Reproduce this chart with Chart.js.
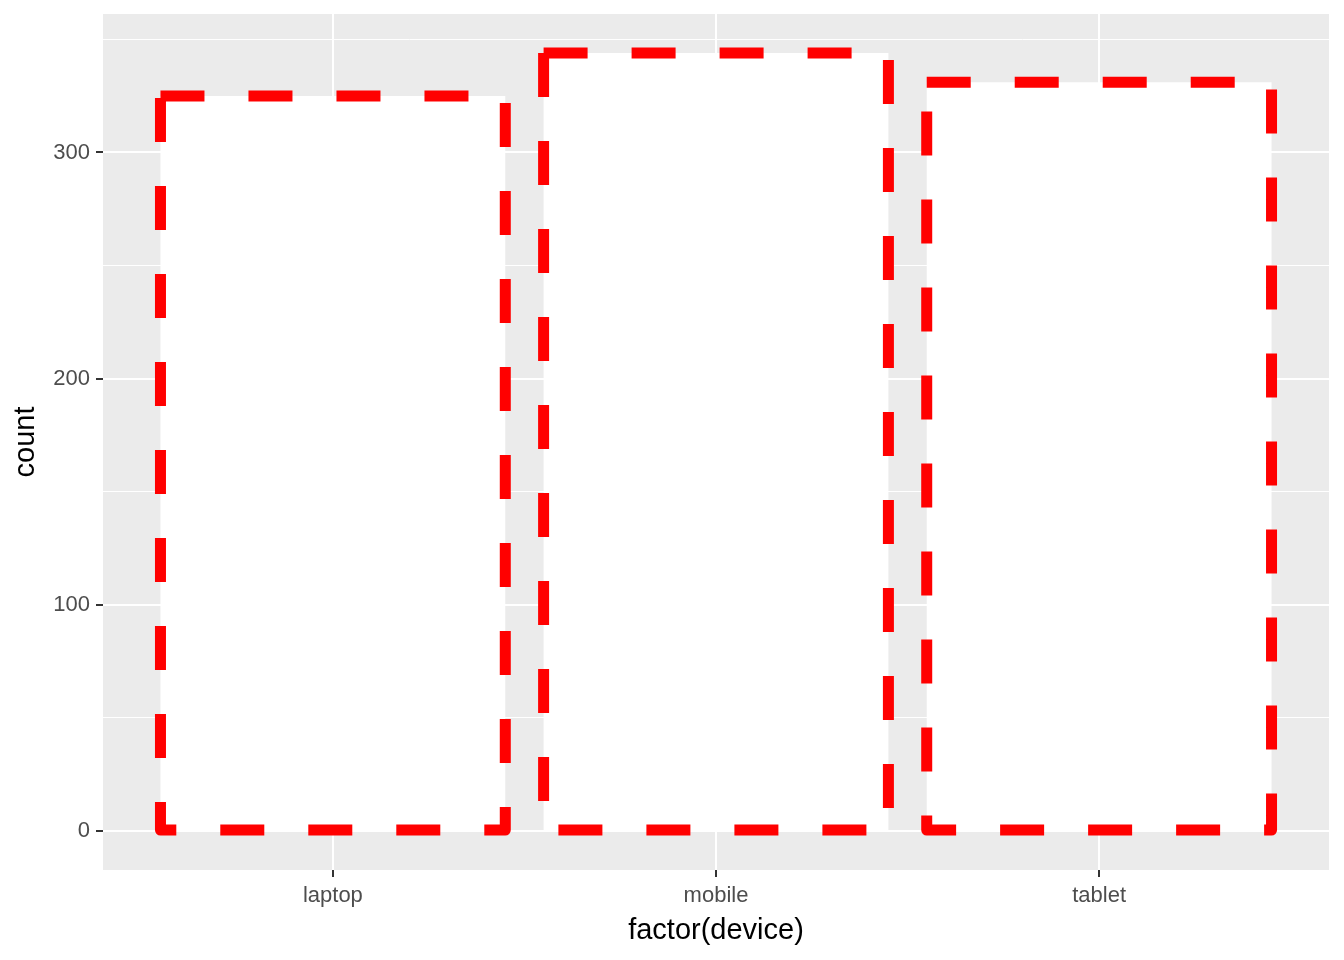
<!DOCTYPE html>
<html>
<head>
<meta charset="utf-8">
<script src="https://cdn.jsdelivr.net/npm/chart.js@4/dist/chart.umd.min.js"></script>
<style>
  html, body { margin: 0; padding: 0; background: #ffffff; }
  #wrap { width: 1344px; height: 960px; }
</style>
</head>
<body>
<div id="wrap"><canvas id="c" width="1344" height="960"></canvas></div>
<script>
// ---- data ----
const categories = ["laptop", "mobile", "tablet"];
const counts = [325, 344, 331];
const yMajorTicks = [0, 100, 200, 300];
const yMinorTicks = [50, 150, 250, 350];
const xTitle = "factor(device)";
const yTitle = "count";

const FONT = "'Liberation Sans', Arial, sans-serif";
const categoryIndex = categories.map((c, i) => i + 1);
const countMax = Math.max(...counts);
const yExpand = countMax * 0.05;

const panelBg = {
  id: 'panelBg',
  beforeDraw(chart) {
    const a = chart.chartArea, ctx = chart.ctx;
    ctx.save();
    ctx.fillStyle = '#EBEBEB';
    ctx.fillRect(a.left, a.top, a.right - a.left, a.bottom - a.top);
    ctx.restore();
  }
};

const dashedOutline = {
  id: 'dashedOutline',
  afterDatasetsDraw(chart) {
    const ctx = chart.ctx;
    const meta = chart.getDatasetMeta(0);
    ctx.save();
    ctx.strokeStyle = '#FF0000';
    ctx.lineWidth = 11;
    ctx.setLineDash([44, 44]);
    ctx.lineDashOffset = 0;
    ctx.lineJoin = 'round';
    ctx.lineCap = 'butt';
    meta.data.forEach(el => {
      const p = el.getProps(['x', 'y', 'base', 'width'], true);
      const l = p.x - p.width / 2, r = p.x + p.width / 2;
      ctx.beginPath();
      ctx.moveTo(l, p.y);
      ctx.lineTo(r, p.y);
      ctx.lineTo(r, p.base);
      ctx.lineTo(l, p.base);
      ctx.lineTo(l, p.y);
      ctx.stroke();
    });
    ctx.restore();
  }
};

new Chart(document.getElementById('c'), {
  type: 'bar',
  data: {
    datasets: [{
      data: categoryIndex.map((x, i) => ({ x: x, y: counts[i] })),
      backgroundColor: '#FFFFFF',
      borderWidth: 0,
      categoryPercentage: 1.0,
      barPercentage: 0.9
    }]
  },
  options: {
    responsive: false,
    animation: false,
    devicePixelRatio: 1,
    layout: { padding: { left: 0, top: 14, right: 15, bottom: 0 } },
    plugins: { legend: { display: false }, tooltip: { enabled: false } },
    scales: {
      x: {
        type: 'linear',
        min: 0.4,
        max: 3.6,
        offset: false,
        afterBuildTicks(scale) { scale.ticks = categoryIndex.map(v => ({ value: v })); },
        afterFit(scale) { scale.height = 90; scale.paddingLeft = 0; scale.paddingRight = 0; },
        border: { display: false },
        grid: {
          offset: false,
          color: '#FFFFFF',
          lineWidth: 2,
          tickColor: '#333333',
          tickWidth: 2,
          tickLength: 7
        },
        ticks: {
          color: '#4D4D4D',
          font: { family: FONT, size: 22 },
          padding: 6,
          maxRotation: 0,
          callback: (v) => categories[Math.round(v) - 1] || ''
        },
        title: {
          display: true,
          text: xTitle,
          color: '#000000',
          font: { family: FONT, size: 29 },
          padding: { top: 0, bottom: 11.6 }
        }
      },
      y: {
        type: 'linear',
        min: -yExpand,
        max: countMax + yExpand,
        afterBuildTicks(scale) {
          scale.ticks = yMajorTicks.concat(yMinorTicks).sort((a, b) => a - b).map(v => ({ value: v }));
        },
        afterFit(scale) { scale.width = 103; scale.paddingTop = 0; scale.paddingBottom = 0; },
        border: { display: false },
        grid: {
          color: '#FFFFFF',
          lineWidth: (ctx) => yMajorTicks.includes(ctx.tick && ctx.tick.value) ? 2 : 1,
          tickColor: (ctx) => yMajorTicks.includes(ctx.tick && ctx.tick.value) ? '#333333' : 'rgba(0,0,0,0)',
          tickWidth: 2,
          tickLength: 7
        },
        ticks: {
          color: '#4D4D4D',
          font: { family: FONT, size: 22 },
          padding: 6,
          callback: (v) => yMajorTicks.includes(v) ? String(v) : ''
        },
        title: {
          display: true,
          text: yTitle,
          color: '#000000',
          font: { family: FONT, size: 29 },
          padding: { top: 8.3, bottom: 0 }
        }
      }
    }
  },
  plugins: [panelBg, dashedOutline]
});
</script>
</body>
</html>
